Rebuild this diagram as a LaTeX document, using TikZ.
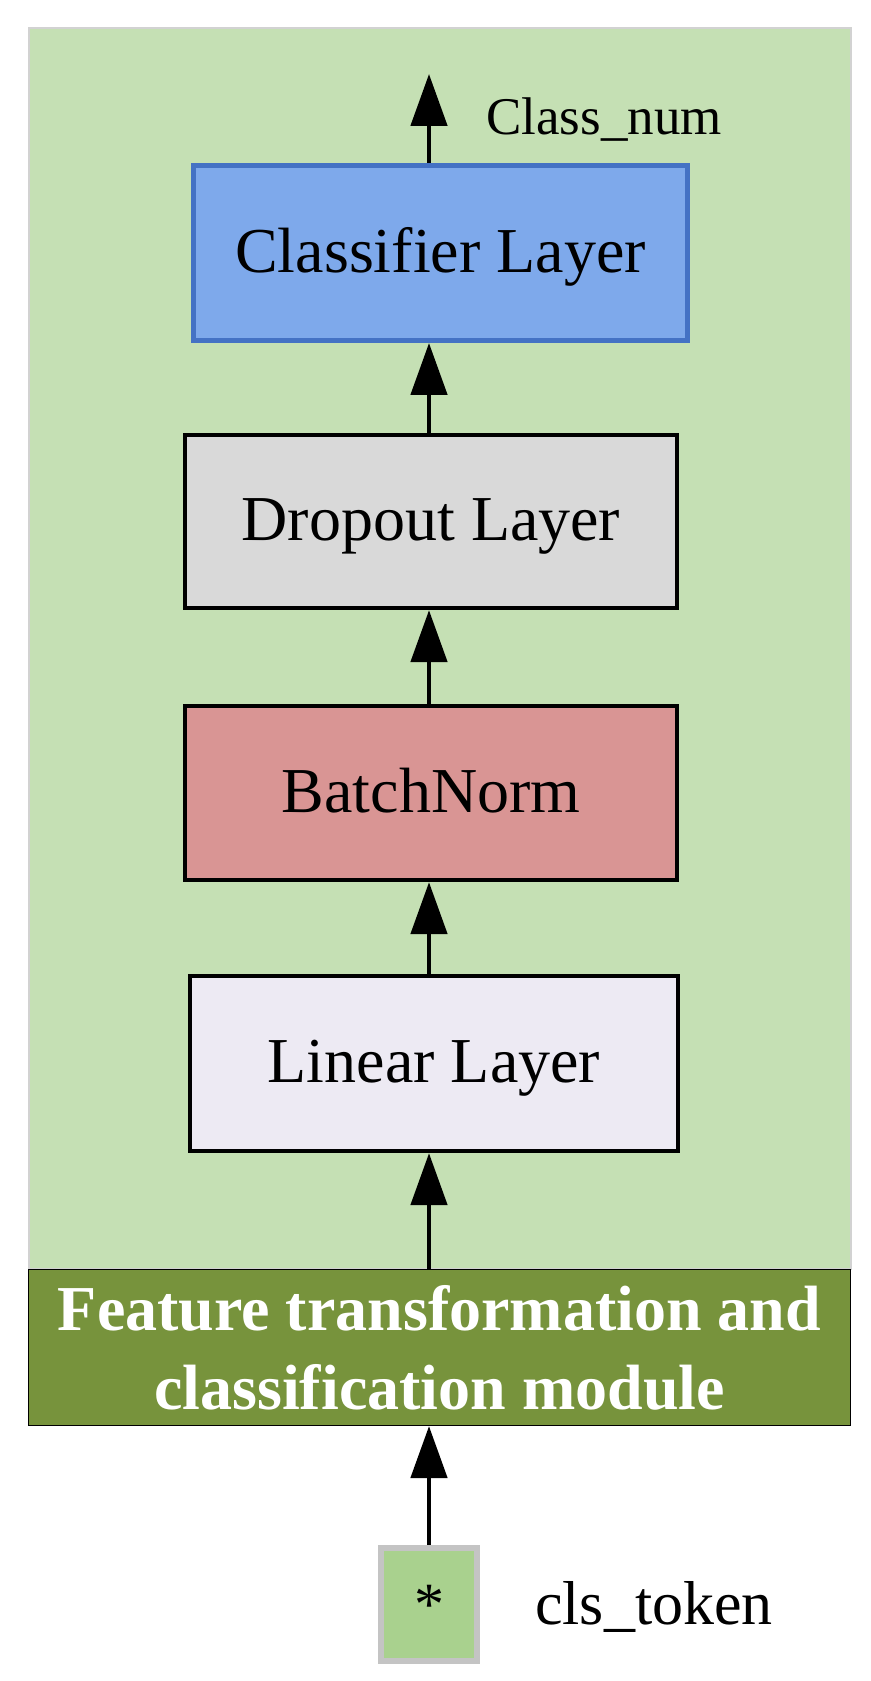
\documentclass[tikz,border=0pt]{standalone}
\usepackage{fontspec}
\setmainfont{Liberation Serif}
\usepackage{xcolor}
\definecolor{PanelGreen}{HTML}{C5E0B4}
\definecolor{PanelEdge}{HTML}{D2D2D2}
\definecolor{ModuleOlive}{HTML}{77933C}
\definecolor{ClfBlue}{HTML}{7EA9EB}
\definecolor{ClfEdge}{HTML}{4472C4}
\definecolor{DropGray}{HTML}{D9D9D9}
\definecolor{NormRose}{HTML}{D99594}
\definecolor{LinLilac}{HTML}{EDEAF3}
\definecolor{TokenGreen}{HTML}{A9D18E}
\definecolor{TokenEdge}{HTML}{C4C4C4}
\usepackage{tikz}
\usetikzlibrary{arrows.meta, positioning}

\tikzset{
    layerbox/.style={draw=black, line width=4.3pt, inner sep=0pt, minimum width=492pt, minimum height=174pt,
        text height=39pt, text depth=0pt, font=\fontsize{64}{76}\selectfont},
    flow/.style={-{Triangle[length=52pt, width=36pt]}, line width=4.8pt, black},
}

\begin{document}
\begin{tikzpicture}[x=1pt, y=1pt]
    \useasboundingbox (0,0) rectangle (870,1681);

    % 1. THE MODULE PANEL (green background)
    \draw[PanelEdge, line width=1.2pt, fill=PanelGreen] (29,412) rectangle (851,1653);

    % 2. MODULE TITLE BAR
    \node[draw=black, line width=1.2pt, fill=ModuleOlive, text=white, inner sep=0pt,
          minimum width=822pt, minimum height=156pt, align=center,
          font=\fontsize{64}{79}\selectfont\bfseries] (module) at (439.5,333.5)
          {Feature transformation and\\classification module};

    % 3. THE LAYER STACK
    \node[layerbox, fill=LinLilac, minimum width=488pt, minimum height=175pt] (lin) at (434,617.5) {Linear Layer};
    \node[layerbox, fill=NormRose] (bn) at (431,888) {BatchNorm};
    \node[layerbox, fill=DropGray, minimum height=173pt] (drop) at (431,1159.5) {Dropout Layer};
    \node[layerbox, draw=ClfEdge, line width=5pt, fill=ClfBlue, minimum width=494pt, minimum height=175pt] (clf) at (440.5,1428) {Classifier Layer};

    % 4. INPUT TOKEN
    \node[draw=TokenEdge, line width=6pt, fill=TokenGreen, inner sep=0pt, minimum width=96pt, minimum height=113pt,
          font=\fontsize{60}{60}\selectfont] (cls) at (429,76.5) {*};
    \node[anchor=base west, font=\fontsize{62}{62}\selectfont, inner sep=0pt] (clslbl) at (535,56) {cls\_token};

    % 5. OUTPUT
    \coordinate (out) at (429,1607);
    \node[anchor=base west, font=\fontsize{53}{53}\selectfont, inner sep=0pt] (outlbl) at (486,1546) {Class\_num};

    % 6. DATA FLOW (arrows)
    \draw[flow] (cls.north) -- (module.south -| cls.north);
    \draw[flow] (module.north -| cls.north) -- (lin.south -| cls.north);
    \draw[flow] (lin.north -| cls.north) -- (bn.south -| cls.north);
    \draw[flow] (bn.north -| cls.north) -- (drop.south -| cls.north);
    \draw[flow] (drop.north -| cls.north) -- (clf.south -| cls.north);
    \draw[flow] (clf.north -| cls.north) -- (out);

\end{tikzpicture}
\end{document}
